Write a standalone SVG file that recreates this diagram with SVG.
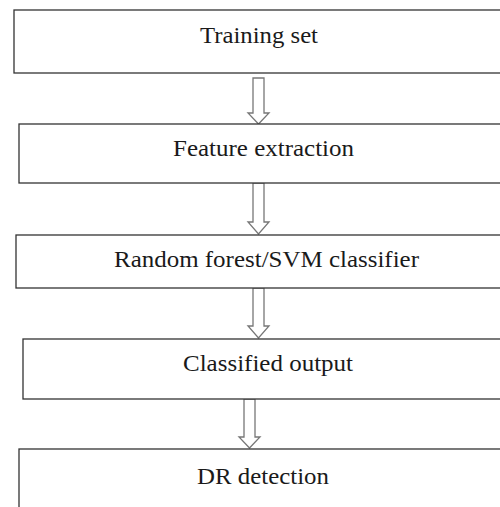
<svg xmlns="http://www.w3.org/2000/svg" width="500" height="507" viewBox="0 0 500 507">
<style>
.box{fill:#fff;stroke:#333;stroke-width:1.3}
.arr{fill:#fff;stroke:#777;stroke-width:1.3}
.lbl{font-family:"Liberation Serif","Times New Roman",serif;font-size:22.5px;fill:#1a1a1a}
</style>
<rect width="500" height="507" fill="#fff"/>
<g id="connectors">
<path class="arr" d="M253,78 H264 V113 H269 L258.5,124 L248,113 H253 Z"/>
<path class="arr" d="M253,183 H264 V222 H269 L258.5,234 L248,222 H253 Z"/>
<path class="arr" d="M253,288 H264 V326 H269 L258.5,338 L248,326 H253 Z"/>
<path class="arr" d="M244,399 H255 V437 H260 L249.5,448 L239,437 H244 Z"/>
</g>
<g id="n1"><rect class="box" x="14" y="10" width="520" height="63"/><text class="lbl" x="200" y="43" textLength="118" lengthAdjust="spacingAndGlyphs">Training set</text></g>
<g id="n2"><rect class="box" x="19" y="124" width="520" height="59"/><text class="lbl" x="173" y="156" textLength="181" lengthAdjust="spacingAndGlyphs">Feature extraction</text></g>
<g id="n3"><rect class="box" x="16" y="235" width="520" height="53"/><text class="lbl" x="114" y="267" textLength="305" lengthAdjust="spacingAndGlyphs">Random forest/SVM classifier</text></g>
<g id="n4"><rect class="box" x="23" y="339" width="520" height="60"/><text class="lbl" x="183" y="371" textLength="170" lengthAdjust="spacingAndGlyphs">Classified output</text></g>
<g id="n5"><rect class="box" x="19" y="449" width="520" height="80"/><text class="lbl" x="197" y="484" textLength="132" lengthAdjust="spacingAndGlyphs">DR detection</text></g>
</svg>
